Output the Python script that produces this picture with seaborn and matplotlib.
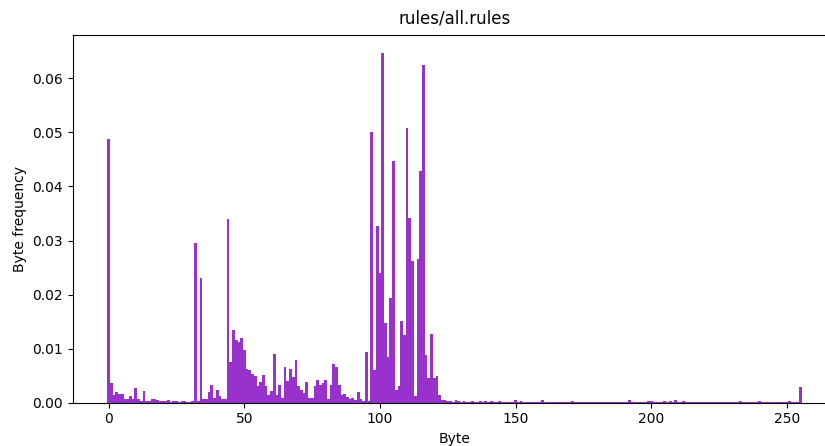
import numpy as np
import pandas as pd
import matplotlib
matplotlib.use("Agg")
import matplotlib.pyplot as plt
import seaborn as sns

title = "rules/all.rules"
byte_values = np.arange(256)

# frequency of each byte value (16 per row)
byte_freq = [
    0.0488, 0.0037, 0.0014, 0.0020, 0.0016, 0.0016, 0.0006, 0.0006, 0.0012, 0.0006, 0.0027, 0.0006, 0.0004, 0.0021, 0.0004, 0.0003,
    0.0007, 0.0007, 0.0005, 0.0003, 0.0003, 0.0003, 0.0005, 0.0001, 0.0003, 0.0003, 0.0001, 0.0003, 0.0003, 0.0001, 0.0001, 0.0003,
    0.0296, 0.0004, 0.0230, 0.0007, 0.0007, 0.0020, 0.0033, 0.0009, 0.0023, 0.0012, 0.0007, 0.0007, 0.0339, 0.0075, 0.0134, 0.0116,
    0.0112, 0.0119, 0.0097, 0.0062, 0.0060, 0.0053, 0.0049, 0.0031, 0.0038, 0.0051, 0.0031, 0.0014, 0.0022, 0.0090, 0.0014, 0.0033,
    0.0009, 0.0066, 0.0040, 0.0062, 0.0047, 0.0079, 0.0031, 0.0023, 0.0018, 0.0038, 0.0009, 0.0009, 0.0031, 0.0042, 0.0033, 0.0036,
    0.0042, 0.0007, 0.0033, 0.0071, 0.0066, 0.0033, 0.0014, 0.0016, 0.0010, 0.0007, 0.0009, 0.0005, 0.0020, 0.0007, 0.0003, 0.0093,
    0.0003, 0.0501, 0.0060, 0.0326, 0.0239, 0.0647, 0.0147, 0.0084, 0.0193, 0.0447, 0.0023, 0.0031, 0.0152, 0.0125, 0.0508, 0.0341,
    0.0263, 0.0012, 0.0265, 0.0429, 0.0624, 0.0088, 0.0045, 0.0128, 0.0045, 0.0049, 0.0014, 0.0005, 0.0005, 0.0003, 0.0003, 0.0001,
    0.0005, 0.0003, 0.0001, 0.0003, 0.0001, 0.0001, 0.0003, 0.0001, 0.0001, 0.0003, 0.0001, 0.0003, 0.0001, 0.0003, 0.0001, 0.0001,
    0.0003, 0.0001, 0.0001, 0.0001, 0.0001, 0.0001, 0.0005, 0.0001, 0.0003, 0.0001, 0.0001, 0.0001, 0.0001, 0.0001, 0.0001, 0.0001,
    0.0005, 0.0001, 0.0001, 0.0001, 0.0001, 0.0001, 0.0001, 0.0001, 0.0001, 0.0001, 0.0001, 0.0003, 0.0001, 0.0001, 0.0001, 0.0001,
    0.0001, 0.0001, 0.0001, 0.0001, 0.0001, 0.0001, 0.0001, 0.0001, 0.0001, 0.0001, 0.0001, 0.0001, 0.0001, 0.0001, 0.0001, 0.0001,
    0.0005, 0.0001, 0.0001, 0.0001, 0.0001, 0.0001, 0.0001, 0.0003, 0.0003, 0.0001, 0.0001, 0.0001, 0.0001, 0.0003, 0.0001, 0.0003,
    0.0001, 0.0005, 0.0001, 0.0001, 0.0003, 0.0001, 0.0001, 0.0001, 0.0001, 0.0001, 0.0001, 0.0001, 0.0001, 0.0001, 0.0001, 0.0001,
    0.0001, 0.0001, 0.0001, 0.0001, 0.0001, 0.0001, 0.0001, 0.0001, 0.0001, 0.0003, 0.0001, 0.0001, 0.0001, 0.0001, 0.0001, 0.0001,
    0.0003, 0.0001, 0.0001, 0.0001, 0.0001, 0.0001, 0.0001, 0.0001, 0.0002, 0.0001, 0.0001, 0.0003, 0.0001, 0.0001, 0.0002, 0.0030,
]

df = pd.DataFrame({"Byte": byte_values, "freq": byte_freq})

fig = plt.figure(figsize=(8.25, 4.46), dpi=100)
# axes runs past the right edge, like the original crop
ax = fig.add_axes([0.088, 0.097, 0.926, 0.8245])

sns.barplot(data=df, x="Byte", y="freq", native_scale=True, width=1.0,
            color="darkorchid", saturation=1, linewidth=0, errorbar=None, ax=ax)

ax.set_xlim(-13.3, 268.3)
ax.set_ylim(0, 0.068)
ax.set_title(title, pad=8)
ax.set_xlabel("Byte")
ax.set_ylabel("Byte frequency")

fig.savefig("out.png", dpi=100)
